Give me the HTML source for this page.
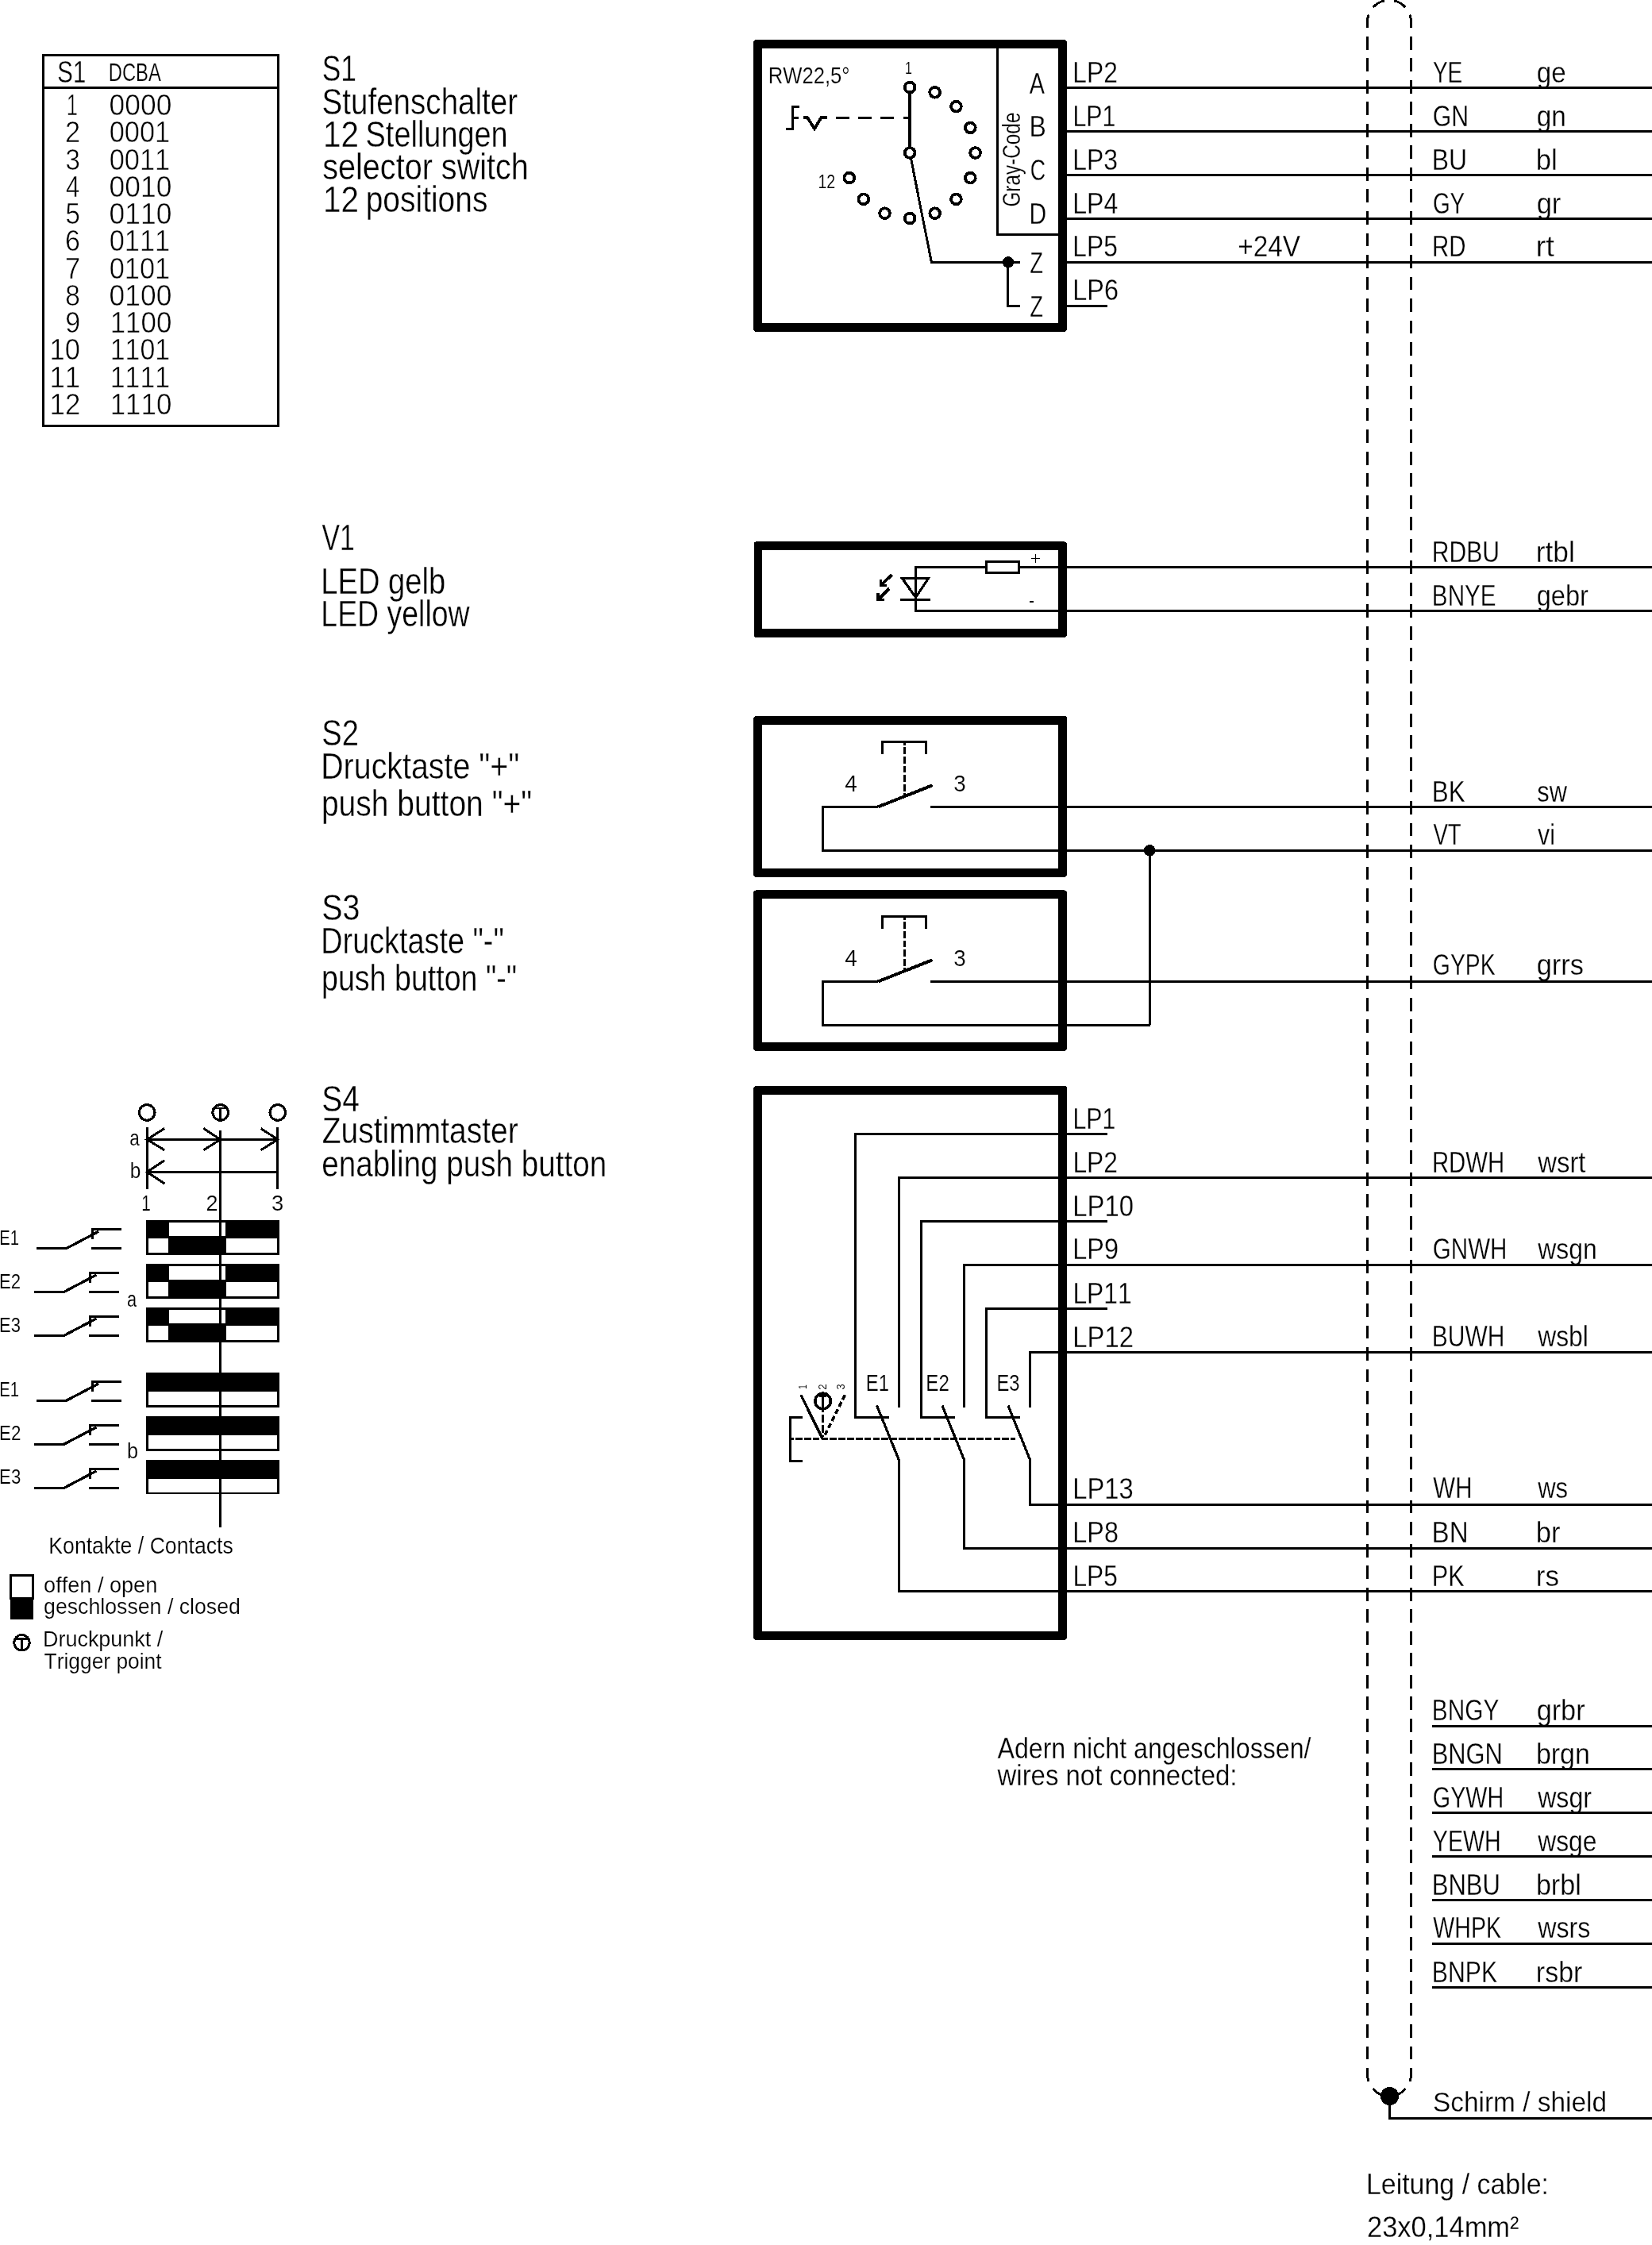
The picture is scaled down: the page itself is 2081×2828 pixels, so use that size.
<!DOCTYPE html>
<html><head><meta charset="utf-8"><style>
html,body{margin:0;padding:0;background:#fff;}
svg{display:block;filter:grayscale(1);}
text{font-family:"Liberation Sans",sans-serif;fill:#000;stroke:#fff;font-kerning:none;}
</style></head><body>
<svg width="2081" height="2828" viewBox="0 0 2081 2828">
<g fill="none" stroke="#000" stroke-linecap="butt" stroke-linejoin="miter" shape-rendering="crispEdges">
<g class="t"><text transform="translate(72.37 104.00) scale(0.7612 1)" font-size="38.52" stroke-width="0.29">S1</text>
<text transform="translate(136.75 102.00) scale(0.7794 1)" font-size="30.52" stroke-width="0.21">DCBA</text>
<text transform="translate(83.84 145.20) scale(0.6812 1)" font-size="37.79" stroke-width="0.55">1</text>
<text transform="translate(137.62 145.20) scale(0.9369 1)" font-size="37.79" stroke-width="0.55">0000</text>
<text transform="translate(82.07 179.45) scale(0.9119 1)" font-size="37.79" stroke-width="0.55">2</text>
<text transform="translate(137.66 179.45) scale(0.9102 1)" font-size="37.79" stroke-width="0.55">0001</text>
<text transform="translate(82.54 213.70) scale(0.8762 1)" font-size="37.79" stroke-width="0.55">3</text>
<text transform="translate(137.66 213.70) scale(0.9102 1)" font-size="37.79" stroke-width="0.55">0011</text>
<text transform="translate(83.08 247.95) scale(0.8244 1)" font-size="37.79" stroke-width="0.55">4</text>
<text transform="translate(137.62 247.95) scale(0.9369 1)" font-size="37.79" stroke-width="0.55">0010</text>
<text transform="translate(82.47 282.20) scale(0.8762 1)" font-size="37.79" stroke-width="0.55">5</text>
<text transform="translate(137.62 282.20) scale(0.9369 1)" font-size="37.79" stroke-width="0.55">0110</text>
<text transform="translate(82.07 316.45) scale(0.9003 1)" font-size="37.79" stroke-width="0.55">6</text>
<text transform="translate(137.66 316.45) scale(0.9102 1)" font-size="37.79" stroke-width="0.55">0111</text>
<text transform="translate(82.03 350.70) scale(0.9139 1)" font-size="37.79" stroke-width="0.55">7</text>
<text transform="translate(137.66 350.70) scale(0.9102 1)" font-size="37.79" stroke-width="0.55">0101</text>
<text transform="translate(82.35 384.95) scale(0.8853 1)" font-size="37.79" stroke-width="0.55">8</text>
<text transform="translate(137.62 384.95) scale(0.9369 1)" font-size="37.79" stroke-width="0.55">0100</text>
<text transform="translate(82.21 419.20) scale(0.8994 1)" font-size="37.79" stroke-width="0.55">9</text>
<text transform="translate(138.64 419.20) scale(0.9245 1)" font-size="37.79" stroke-width="0.55">1100</text>
<text transform="translate(62.58 453.45) scale(0.9103 1)" font-size="37.79" stroke-width="0.55">10</text>
<text transform="translate(138.72 453.45) scale(0.8973 1)" font-size="37.79" stroke-width="0.55">1101</text>
<text transform="translate(62.55 487.70) scale(0.9193 1)" font-size="37.79" stroke-width="0.55">11</text>
<text transform="translate(138.72 487.70) scale(0.8973 1)" font-size="37.79" stroke-width="0.55">1111</text>
<text transform="translate(62.55 521.95) scale(0.9207 1)" font-size="37.79" stroke-width="0.55">12</text>
<text transform="translate(138.64 521.95) scale(0.9245 1)" font-size="37.79" stroke-width="0.55">1110</text>
<text transform="translate(405.70 101.80) scale(0.7719 1)" font-size="45.79" stroke-width="0.36">S1</text>
<text transform="translate(405.55 143.60) scale(0.8425 1)" font-size="45.79" stroke-width="0.36">Stufenschalter</text>
<text transform="translate(406.92 184.80) scale(0.8840 1)" font-size="45.79" stroke-width="0.36">12</text>
<text transform="translate(460.58 184.80) scale(0.8281 1)" font-size="45.79" stroke-width="0.36">Stellungen</text>
<text transform="translate(406.20 225.70) scale(0.8649 1)" font-size="45.79" stroke-width="0.36">selector switch</text>
<text transform="translate(406.92 266.50) scale(0.8840 1)" font-size="45.79" stroke-width="0.36">12</text>
<text transform="translate(460.69 266.50) scale(0.8507 1)" font-size="45.79" stroke-width="0.36">positions</text>
<text transform="translate(405.55 693.10) scale(0.7374 1)" font-size="45.79" stroke-width="0.36">V1</text>
<text transform="translate(404.27 748.10) scale(0.8326 1)" font-size="45.79" stroke-width="0.36">LED gelb</text>
<text transform="translate(404.33 788.70) scale(0.8178 1)" font-size="45.79" stroke-width="0.36">LED yellow</text>
<text transform="translate(405.27 939.30) scale(0.8330 1)" font-size="45.79" stroke-width="0.36">S2</text>
<text transform="translate(404.17 980.50) scale(0.8604 1)" font-size="45.79" stroke-width="0.36">Drucktaste &quot;+&quot;</text>
<text transform="translate(404.89 1028.20) scale(0.8522 1)" font-size="45.79" stroke-width="0.36">push button &quot;+&quot;</text>
<text transform="translate(405.21 1158.60) scale(0.8611 1)" font-size="45.79" stroke-width="0.36">S3</text>
<text transform="translate(404.30 1200.50) scale(0.8257 1)" font-size="45.79" stroke-width="0.36">Drucktaste &quot;-&quot;</text>
<text transform="translate(404.98 1248.20) scale(0.8214 1)" font-size="45.79" stroke-width="0.36">push button &quot;-&quot;</text>
<text transform="translate(405.23 1399.80) scale(0.8501 1)" font-size="45.79" stroke-width="0.36">S4</text>
<text transform="translate(405.76 1440.20) scale(0.8520 1)" font-size="45.79" stroke-width="0.36">Zustimmtaster</text>
<text transform="translate(405.36 1482.10) scale(0.8441 1)" font-size="45.79" stroke-width="0.36">enabling push button</text>
<text transform="translate(967.70 104.70) scale(0.8519 1)" font-size="30.09" stroke-width="0.20">RW22,5°</text>
<text transform="translate(1285.00 260.62) rotate(-90) scale(0.7979 1)" font-size="30.52" stroke-width="0.21">Gray-Code</text>
<text transform="translate(1296.84 117.80) scale(0.7681 1)" font-size="37.50" stroke-width="0.28">A</text>
<text transform="translate(1296.38 172.40) scale(0.8518 1)" font-size="37.50" stroke-width="0.28">B</text>
<text transform="translate(1297.64 227.00) scale(0.7158 1)" font-size="37.50" stroke-width="0.28">C</text>
<text transform="translate(1296.53 281.60) scale(0.8014 1)" font-size="37.50" stroke-width="0.28">D</text>
<text transform="translate(1297.13 343.80) scale(0.7301 1)" font-size="37.50" stroke-width="0.28">Z</text>
<text transform="translate(1297.13 398.80) scale(0.7301 1)" font-size="37.50" stroke-width="0.28">Z</text>
<text transform="translate(1139.98 92.60) scale(0.7196 1)" font-size="22.24" stroke-width="0.12">1</text>
<text transform="translate(1030.40 236.90) scale(0.8462 1)" font-size="23.26" stroke-width="0.13">12</text>
<text transform="translate(1351.30 103.90) scale(0.8468 1)" font-size="37.50" stroke-width="0.28">LP2</text>
<text transform="translate(1351.41 158.70) scale(0.8105 1)" font-size="37.50" stroke-width="0.28">LP1</text>
<text transform="translate(1351.28 213.80) scale(0.8516 1)" font-size="37.50" stroke-width="0.28">LP3</text>
<text transform="translate(1351.26 268.90) scale(0.8569 1)" font-size="37.50" stroke-width="0.28">LP4</text>
<text transform="translate(1351.29 322.90) scale(0.8474 1)" font-size="37.50" stroke-width="0.28">LP5</text>
<text transform="translate(1351.24 378.10) scale(0.8645 1)" font-size="37.50" stroke-width="0.28">LP6</text>
<text transform="translate(1559.27 322.80) scale(0.8820 1)" font-size="37.79" stroke-width="0.28">+24V</text>
<text transform="translate(1804.88 104.00) scale(0.7481 1)" font-size="37.50" stroke-width="0.28">YE</text>
<text transform="translate(1935.71 104.00) scale(0.8838 1)" font-size="37.50" stroke-width="0.28">ge</text>
<text transform="translate(1804.78 159.00) scale(0.8050 1)" font-size="37.50" stroke-width="0.28">GN</text>
<text transform="translate(1935.70 159.00) scale(0.8885 1)" font-size="37.50" stroke-width="0.28">gn</text>
<text transform="translate(1803.69 213.80) scale(0.8499 1)" font-size="37.50" stroke-width="0.28">BU</text>
<text transform="translate(1934.87 213.80) scale(0.9233 1)" font-size="37.50" stroke-width="0.28">bl</text>
<text transform="translate(1804.90 269.10) scale(0.7441 1)" font-size="37.50" stroke-width="0.28">GY</text>
<text transform="translate(1935.65 269.10) scale(0.9214 1)" font-size="37.50" stroke-width="0.28">gr</text>
<text transform="translate(1803.88 323.30) scale(0.7851 1)" font-size="37.50" stroke-width="0.28">RD</text>
<text transform="translate(1934.55 323.30) scale(1.0227 1)" font-size="37.50" stroke-width="0.28">rt</text>
<text transform="translate(1803.83 708.10) scale(0.8017 1)" font-size="37.50" stroke-width="0.28">RDBU</text>
<text transform="translate(1934.76 708.10) scale(0.9406 1)" font-size="37.50" stroke-width="0.28">rtbl</text>
<text transform="translate(1803.87 762.80) scale(0.7903 1)" font-size="37.50" stroke-width="0.28">BNYE</text>
<text transform="translate(1935.73 762.80) scale(0.8674 1)" font-size="37.50" stroke-width="0.28">gebr</text>
<text transform="translate(1803.73 1010.40) scale(0.8361 1)" font-size="37.50" stroke-width="0.28">BK</text>
<text transform="translate(1936.24 1010.40) scale(0.8222 1)" font-size="37.50" stroke-width="0.28">sw</text>
<text transform="translate(1805.38 1064.30) scale(0.7357 1)" font-size="37.50" stroke-width="0.28">VT</text>
<text transform="translate(1937.00 1064.30) scale(0.8106 1)" font-size="37.50" stroke-width="0.28">vi</text>
<text transform="translate(1804.87 1227.80) scale(0.7556 1)" font-size="37.50" stroke-width="0.28">GYPK</text>
<text transform="translate(1935.65 1227.80) scale(0.9180 1)" font-size="37.50" stroke-width="0.28">grrs</text>
<text transform="translate(1803.89 1477.00) scale(0.7837 1)" font-size="37.50" stroke-width="0.28">RDWH</text>
<text transform="translate(1937.15 1477.00) scale(0.8786 1)" font-size="37.50" stroke-width="0.28">wsrt</text>
<text transform="translate(1804.81 1586.00) scale(0.7883 1)" font-size="37.50" stroke-width="0.28">GNWH</text>
<text transform="translate(1937.15 1586.00) scale(0.8525 1)" font-size="37.50" stroke-width="0.28">wsgn</text>
<text transform="translate(1803.84 1695.90) scale(0.7986 1)" font-size="37.50" stroke-width="0.28">BUWH</text>
<text transform="translate(1937.15 1695.90) scale(0.8503 1)" font-size="37.50" stroke-width="0.28">wsbl</text>
<text transform="translate(1805.37 1887.10) scale(0.7848 1)" font-size="37.50" stroke-width="0.28">WH</text>
<text transform="translate(1937.15 1887.10) scale(0.8286 1)" font-size="37.50" stroke-width="0.28">ws</text>
<text transform="translate(1803.58 1942.70) scale(0.8834 1)" font-size="37.50" stroke-width="0.28">BN</text>
<text transform="translate(1934.87 1942.70) scale(0.9207 1)" font-size="37.50" stroke-width="0.28">br</text>
<text transform="translate(1803.79 1998.30) scale(0.8167 1)" font-size="37.50" stroke-width="0.28">PK</text>
<text transform="translate(1934.77 1998.30) scale(0.9345 1)" font-size="37.50" stroke-width="0.28">rs</text>
<text transform="translate(1803.86 2166.80) scale(0.7941 1)" font-size="37.50" stroke-width="0.28">BNGY</text>
<text transform="translate(1935.66 2166.80) scale(0.9133 1)" font-size="37.50" stroke-width="0.28">grbr</text>
<text transform="translate(1803.77 2222.00) scale(0.8228 1)" font-size="37.50" stroke-width="0.28">BNGN</text>
<text transform="translate(1934.91 2222.00) scale(0.9059 1)" font-size="37.50" stroke-width="0.28">brgn</text>
<text transform="translate(1804.85 2276.80) scale(0.7662 1)" font-size="37.50" stroke-width="0.28">GYWH</text>
<text transform="translate(1937.15 2276.80) scale(0.8574 1)" font-size="37.50" stroke-width="0.28">wsgr</text>
<text transform="translate(1804.87 2332.00) scale(0.7641 1)" font-size="37.50" stroke-width="0.28">YEWH</text>
<text transform="translate(1937.15 2332.00) scale(0.8495 1)" font-size="37.50" stroke-width="0.28">wsge</text>
<text transform="translate(1803.75 2386.60) scale(0.8277 1)" font-size="37.50" stroke-width="0.28">BNBU</text>
<text transform="translate(1934.90 2386.60) scale(0.9096 1)" font-size="37.50" stroke-width="0.28">brbl</text>
<text transform="translate(1805.37 2441.40) scale(0.7613 1)" font-size="37.50" stroke-width="0.28">WHPK</text>
<text transform="translate(1937.15 2441.40) scale(0.8592 1)" font-size="37.50" stroke-width="0.28">wsrs</text>
<text transform="translate(1803.82 2496.60) scale(0.8051 1)" font-size="37.50" stroke-width="0.28">BNPK</text>
<text transform="translate(1934.84 2496.60) scale(0.9078 1)" font-size="37.50" stroke-width="0.28">rsbr</text>
<text transform="translate(1064.26 996.80) scale(0.9300 1)" font-size="30.09" stroke-width="0.20">4</text>
<text transform="translate(1201.14 996.90) scale(0.9253 1)" font-size="30.09" stroke-width="0.20">3</text>
<text transform="translate(1064.26 1216.80) scale(0.9300 1)" font-size="30.09" stroke-width="0.20">4</text>
<text transform="translate(1201.14 1216.90) scale(0.9253 1)" font-size="30.09" stroke-width="0.20">3</text>
<text transform="translate(1351.51 1421.60) scale(0.8088 1)" font-size="37.50" stroke-width="0.28">LP1</text>
<text transform="translate(1351.40 1476.60) scale(0.8468 1)" font-size="37.50" stroke-width="0.28">LP2</text>
<text transform="translate(1351.31 1531.50) scale(0.8755 1)" font-size="37.50" stroke-width="0.28">LP10</text>
<text transform="translate(1351.34 1586.40) scale(0.8647 1)" font-size="37.50" stroke-width="0.28">LP9</text>
<text transform="translate(1351.39 1641.50) scale(0.8491 1)" font-size="37.50" stroke-width="0.28">LP11</text>
<text transform="translate(1351.31 1696.50) scale(0.8751 1)" font-size="37.50" stroke-width="0.28">LP12</text>
<text transform="translate(1351.40 1997.90) scale(0.8458 1)" font-size="37.50" stroke-width="0.28">LP5</text>
<text transform="translate(1351.35 1943.40) scale(0.8626 1)" font-size="37.50" stroke-width="0.28">LP8</text>
<text transform="translate(1351.32 1888.30) scale(0.8726 1)" font-size="37.50" stroke-width="0.28">LP13</text>
<text transform="translate(1090.84 1752.30) scale(0.8220 1)" font-size="29.07" stroke-width="0.19">E1</text>
<text transform="translate(1166.32 1752.30) scale(0.8294 1)" font-size="29.07" stroke-width="0.19">E2</text>
<text transform="translate(1255.45 1752.30) scale(0.8183 1)" font-size="29.07" stroke-width="0.19">E3</text>
<text transform="translate(1016.20 1749.86) rotate(-90) scale(0.6662 1)" font-size="14.97" stroke-width="0.05">1</text>
<text transform="translate(1041.00 1750.67) rotate(-90) scale(0.8944 1)" font-size="14.97" stroke-width="0.05">2</text>
<text transform="translate(1064.00 1750.49) rotate(-90) scale(0.8594 1)" font-size="14.97" stroke-width="0.05">3</text>
<text transform="translate(1804.98 2659.80) scale(0.9381 1)" font-size="35.61" stroke-width="0.26">Schirm / shield</text>
<text transform="translate(1720.92 2764.00) scale(0.9339 1)" font-size="36.34" stroke-width="0.26">Leitung / cable:</text>
<text transform="translate(1721.97 2817.80) scale(0.9492 1)" font-size="36.34" stroke-width="0.26">23x0,14mm²</text>
<text transform="translate(1256.44 2214.60) scale(0.8921 1)" font-size="36.05" stroke-width="0.26">Adern nicht angeschlossen/</text>
<text transform="translate(1256.55 2249.20) scale(0.9136 1)" font-size="36.05" stroke-width="0.26">wires not connected:</text>
<text transform="translate(163.24 1443.20) scale(0.7967 1)" font-size="28.34" stroke-width="0.18">a</text>
<text transform="translate(163.72 1484.20) scale(0.8630 1)" font-size="28.34" stroke-width="0.18">b</text>
<text transform="translate(178.21 1525.00) scale(0.7365 1)" font-size="28.34" stroke-width="0.18">1</text>
<text transform="translate(259.54 1525.00) scale(0.9526 1)" font-size="28.34" stroke-width="0.18">2</text>
<text transform="translate(342.06 1525.00) scale(0.9674 1)" font-size="28.34" stroke-width="0.18">3</text>
<text transform="translate(-0.77 1568.10) scale(0.7683 1)" font-size="26.45" stroke-width="0.16">E1</text>
<text transform="translate(-0.92 1623.20) scale(0.8386 1)" font-size="26.45" stroke-width="0.16">E2</text>
<text transform="translate(-0.91 1678.20) scale(0.8338 1)" font-size="26.45" stroke-width="0.16">E3</text>
<text transform="translate(-0.77 1759.40) scale(0.7683 1)" font-size="26.45" stroke-width="0.16">E1</text>
<text transform="translate(-0.93 1814.30) scale(0.8456 1)" font-size="26.45" stroke-width="0.16">E2</text>
<text transform="translate(-0.92 1869.20) scale(0.8407 1)" font-size="26.45" stroke-width="0.16">E3</text>
<text transform="translate(160.07 1645.80) scale(0.7693 1)" font-size="28.34" stroke-width="0.18">a</text>
<text transform="translate(160.07 1837.40) scale(0.8944 1)" font-size="28.34" stroke-width="0.18">b</text>
<text transform="translate(61.31 1957.20) scale(0.9259 1)" font-size="28.78" stroke-width="0.19">Kontakte / Contacts</text>
<text transform="translate(55.06 2006.20) scale(0.9823 1)" font-size="27.62" stroke-width="0.18">offen / open</text>
<text transform="translate(55.08 2032.90) scale(0.9667 1)" font-size="27.62" stroke-width="0.18">geschlossen / closed</text>
<text transform="translate(53.99 2074.00) scale(0.9761 1)" font-size="27.62" stroke-width="0.18">Druckpunkt /</text>
<text transform="translate(55.61 2102.10) scale(0.9545 1)" font-size="27.62" stroke-width="0.18">Trigger point</text></g>
<path d="M54.40 69.60 H350.60 V536.20 H54.40 Z" stroke-width="2.80" />
<path d="M54.40 110.60 L350.60 110.60" stroke-width="3.00" />
<path d="M952.70 50.10 H1340.50 A3.50 3.50 0 0 1 1344.00 53.60 V414.40 A3.50 3.50 0 0 1 1340.50 417.90 H952.70 A3.50 3.50 0 0 1 949.20 414.40 V53.60 A3.50 3.50 0 0 1 952.70 50.10 Z M960.00 60.90 H1333.20 V407.10 H960.00 Z" fill="#000" fill-rule="evenodd" stroke="none"/>
<path d="M1256.5 60 V295.3 H1333" stroke-width="3.00" />
<circle cx="1146.10" cy="110.00" r="6.40" stroke-width="3.80"/>
<circle cx="1177.67" cy="116.28" r="6.40" stroke-width="3.80"/>
<circle cx="1204.44" cy="134.16" r="6.40" stroke-width="3.80"/>
<circle cx="1222.32" cy="160.93" r="6.40" stroke-width="3.80"/>
<circle cx="1228.60" cy="192.50" r="6.40" stroke-width="3.80"/>
<circle cx="1222.32" cy="224.07" r="6.40" stroke-width="3.80"/>
<circle cx="1204.44" cy="250.84" r="6.40" stroke-width="3.80"/>
<circle cx="1177.67" cy="268.72" r="6.40" stroke-width="3.80"/>
<circle cx="1146.10" cy="275.00" r="6.40" stroke-width="3.80"/>
<circle cx="1114.53" cy="268.72" r="6.40" stroke-width="3.80"/>
<circle cx="1087.76" cy="250.84" r="6.40" stroke-width="3.80"/>
<circle cx="1069.88" cy="224.07" r="6.40" stroke-width="3.80"/>
<circle cx="1146.10" cy="192.50" r="6.40" stroke-width="3.80"/>
<path d="M1146.10 116.50 L1146.10 186.30" stroke-width="3.50" />
<path d="M1147.3 198.6 L1173.4 330.4 H1285" stroke-width="3.00" />
<circle cx="1270.00" cy="330.30" r="7.10" fill="#000" stroke="none"/>
<path d="M1269.6 330 V385.5 H1285" stroke-width="3.00" />
<path d="M990 162.5 H998.6 V134.5 H1007" stroke-width="3.00" />
<path d="M998.60 148.30 L1005.50 148.30" stroke-width="3.00" />
<path d="M1012.2 148 H1017 L1026 162 L1034.6 148 H1041.9" stroke-width="3.80" stroke-linejoin="miter"/>
<path d="M1053 148.3 H1146" stroke-width="3.50" stroke-dasharray="17 11.2"/>
<path d="M1343.00 110.50 L2081.00 110.50" stroke-width="3.00" />
<path d="M1343.00 165.50 L2081.00 165.50" stroke-width="3.00" />
<path d="M1343.00 220.50 L2081.00 220.50" stroke-width="3.00" />
<path d="M1343.00 275.50 L2081.00 275.50" stroke-width="3.00" />
<path d="M1343.00 330.40 L2081.00 330.40" stroke-width="3.00" />
<path d="M1343.00 385.50 L1395.00 385.50" stroke-width="3.00" />
<path d="M953.00 682.40 H1340.50 A3.50 3.50 0 0 1 1344.00 685.90 V799.30 A3.50 3.50 0 0 1 1340.50 802.80 H953.00 A3.50 3.50 0 0 1 949.50 799.30 V685.90 A3.50 3.50 0 0 1 953.00 682.40 Z M960.30 693.20 H1333.20 V792.00 H960.30 Z" fill="#000" fill-rule="evenodd" stroke="none"/>
<path d="M2081 714.5 H1153.5 V769.5 H2081" stroke-width="3.00" />
<rect x="1242.3" y="707.2" width="41.3" height="14.4" fill="#fff" stroke-width="2.6"/>
<path d="M1136.4 728.4 H1169.6 L1153.5 752.5 Z" stroke-width="3.20" stroke-linejoin="miter"/>
<path d="M1134.00 755.60 L1171.80 755.60" stroke-width="3.20" />
<path d="M1123.50 723.80 L1109.80 737.20" stroke-width="4.00" />
<path d="M1109.2 730 V737.8 H1116.8" stroke-width="3.30" />
<path d="M1120.40 741.40 L1106.60 754.90" stroke-width="4.00" />
<path d="M1105.9 747.4 V755.4 H1113.9" stroke-width="3.30" />
<path d="M1299.00 703.60 L1310.00 703.60" stroke-width="1.50" />
<path d="M1304.50 698.10 L1304.50 709.10" stroke-width="1.50" />
<path d="M1297.00 758.20 L1302.00 758.20" stroke-width="1.50" />
<path d="M952.50 902.00 H1340.50 A3.50 3.50 0 0 1 1344.00 905.50 V1101.40 A3.50 3.50 0 0 1 1340.50 1104.90 H952.50 A3.50 3.50 0 0 1 949.00 1101.40 V905.50 A3.50 3.50 0 0 1 952.50 902.00 Z M959.80 912.80 H1333.20 V1094.10 H959.80 Z" fill="#000" fill-rule="evenodd" stroke="none"/>
<path d="M1106.1 1016.30 H1036.5 V1071.40 H1449" stroke-width="3.00" />
<path d="M1106.10 1016.40 L1174.70 989.20" stroke-width="4.00" />
<path d="M1172.20 1016.40 L2081.00 1016.40" stroke-width="3.00" />
<path d="M1111.5 949.60 V934.70 H1166.5 V949.60" stroke-width="3.00" />
<path d="M1139.5 936.00 V1003.00" stroke-width="3.00" stroke-dasharray="8.9 2.65" stroke-dashoffset="6.1"/>
<path d="M952.50 1121.49 H1340.50 A3.50 3.50 0 0 1 1344.00 1124.99 V1320.40 A3.50 3.50 0 0 1 1340.50 1323.90 H952.50 A3.50 3.50 0 0 1 949.00 1320.40 V1124.99 A3.50 3.50 0 0 1 952.50 1121.49 Z M959.80 1132.29 H1333.20 V1313.10 H959.80 Z" fill="#000" fill-rule="evenodd" stroke="none"/>
<path d="M1106.1 1236.30 H1036.5 V1291.40 H1449" stroke-width="3.00" />
<path d="M1106.10 1236.40 L1174.70 1209.20" stroke-width="4.00" />
<path d="M1172.20 1236.40 L2081.00 1236.40" stroke-width="3.00" />
<path d="M1111.5 1169.60 V1154.70 H1166.5 V1169.60" stroke-width="3.00" />
<path d="M1139.5 1156.00 V1223.00" stroke-width="3.00" stroke-dasharray="8.9 2.65" stroke-dashoffset="6.1"/>
<path d="M1449.00 1071.30 L2081.00 1071.30" stroke-width="3.00" />
<path d="M1448.50 1071.30 L1448.50 1291.30" stroke-width="3.00" />
<circle cx="1448.20" cy="1071.30" r="7.30" fill="#000" stroke="none"/>
<path d="M952.70 1367.90 H1340.50 A3.50 3.50 0 0 1 1344.00 1371.40 V2062.40 A3.50 3.50 0 0 1 1340.50 2065.90 H952.70 A3.50 3.50 0 0 1 949.20 2062.40 V1371.40 A3.50 3.50 0 0 1 952.70 1367.90 Z M960.00 1378.70 H1333.20 V2055.10 H960.00 Z" fill="#000" fill-rule="evenodd" stroke="none"/>
<path d="M1120.10 1785.4 H1077.80 V1428.60 H1395.00" stroke-width="3.00" />
<path d="M1132.30 1772.5 V1483.60 H2081.00" stroke-width="3.00" />
<path d="M1203.00 1785.4 H1160.70 V1538.50 H1395.00" stroke-width="3.00" />
<path d="M1214.60 1772.5 V1593.40 H2081.00" stroke-width="3.00" />
<path d="M1284.70 1785.4 H1242.40 V1648.50 H1395.00" stroke-width="3.00" />
<path d="M1297.60 1772.5 V1703.50 H2081.00" stroke-width="3.00" />
<path d="M1104.50 1770.40 L1132.30 1839.00" stroke-width="3.20" />
<path d="M1132.30 1839 V2004.90 H2081" stroke-width="3.00" />
<path d="M1186.80 1770.40 L1214.60 1839.00" stroke-width="3.20" />
<path d="M1214.60 1839 V1950.40 H2081" stroke-width="3.00" />
<path d="M1269.80 1770.40 L1297.60 1839.00" stroke-width="3.20" />
<path d="M1297.60 1839 V1895.30 H2081" stroke-width="3.00" />
<path d="M1010.9 1785.4 H995.4 V1840.4 H1010.9" stroke-width="3.00" />
<path d="M997.00 1812.40 L1279.00 1812.40" stroke-width="2.80" stroke-dasharray="8.7 2.15" stroke-dashoffset="5.9"/>
<circle cx="1036.60" cy="1765.00" r="9.80" stroke-width="3.60"/>
<path d="M1031.90 1758.60 L1041.20 1758.60" stroke-width="2.50" />
<path d="M1036.50 1758.60 L1036.50 1778.70" stroke-width="2.70" />
<path d="M1036.50 1782.00 L1036.50 1810.00" stroke-width="2.70" stroke-dasharray="9.7 3.3"/>
<path d="M1008.90 1757.20 L1036.50 1812.90" stroke-width="3.50" />
<path d="M1064.30 1757.20 L1037.50 1811.00" stroke-width="3.50" stroke-dasharray="6.5 3.5"/>
<path d="M1750 0.2 A27.5 27.5 0 0 0 1722.5 27.7 L1722.5 2613 A27.5 27.5 0 0 0 1750 2640.5" stroke-width="3.00" stroke-dasharray="16.8 10.72" stroke-dashoffset="21.3"/>
<path d="M1750 0.2 A27.5 27.5 0 0 1 1777.5 27.7 L1777.5 2613 A27.5 27.5 0 0 1 1750 2640.5" stroke-width="3.00" stroke-dasharray="16.8 10.72" stroke-dashoffset="21.3"/>
<circle cx="1750.50" cy="2640.50" r="11.50" fill="#000" stroke="none"/>
<path d="M1750.5 2645 V2668.2 H2081" stroke-width="3.00" />
<path d="M1803.90 2174.30 L2081.00 2174.30" stroke-width="3.00" />
<path d="M1803.90 2228.40 L2081.00 2228.40" stroke-width="3.00" />
<path d="M1803.90 2283.40 L2081.00 2283.40" stroke-width="3.00" />
<path d="M1803.90 2338.40 L2081.00 2338.40" stroke-width="3.00" />
<path d="M1803.90 2393.60 L2081.00 2393.60" stroke-width="3.00" />
<path d="M1803.90 2448.40 L2081.00 2448.40" stroke-width="3.00" />
<path d="M1803.90 2503.60 L2081.00 2503.60" stroke-width="3.00" />
<circle cx="185.20" cy="1401.40" r="9.80" stroke-width="3.10"/>
<circle cx="349.80" cy="1401.40" r="9.80" stroke-width="3.10"/>
<circle cx="277.70" cy="1401.40" r="9.80" stroke-width="3.10"/>
<path d="M270.50 1396.00 L285.00 1396.00" stroke-width="2.50" />
<path d="M277.70 1396.00 L277.70 1411.00" stroke-width="2.50" />
<path d="M185.20 1420.40 L185.20 1498.30" stroke-width="3.00" />
<path d="M349.80 1420.40 L349.80 1498.30" stroke-width="3.00" />
<path d="M277.70 1423.80 L277.70 1924.00" stroke-width="3.00" />
<path d="M185.20 1435.40 L349.80 1435.40" stroke-width="3.00" />
<path d="M185.20 1476.40 L349.80 1476.40" stroke-width="3.00" />
<path d="M207.2 1421.5 L185.2 1435.4 L207.2 1448.8" stroke-width="3.00" stroke-linejoin="miter"/>
<path d="M207.2 1461.8 L185.2 1476.4 L207.2 1491" stroke-width="3.00" stroke-linejoin="miter"/>
<path d="M256.4 1421.5 L277.7 1435.4 L256.4 1448.8" stroke-width="3.00" stroke-linejoin="miter"/>
<path d="M328.6 1421.5 L349.8 1435.4 L328.6 1448.8" stroke-width="3.00" stroke-linejoin="miter"/>
<rect x="184.20" y="1537.10" width="167.80" height="43.80" fill="#000" stroke="none"/>
<rect x="213.00" y="1540.10" width="70.80" height="17.00" fill="#fff" stroke="none"/>
<rect x="187.00" y="1560.10" width="25.00" height="17.80" fill="#fff" stroke="none"/>
<rect x="285.00" y="1560.10" width="63.90" height="17.80" fill="#fff" stroke="none"/>
<rect x="184.20" y="1592.00" width="167.80" height="43.80" fill="#000" stroke="none"/>
<rect x="213.00" y="1595.00" width="70.80" height="17.00" fill="#fff" stroke="none"/>
<rect x="187.00" y="1615.00" width="25.00" height="17.80" fill="#fff" stroke="none"/>
<rect x="285.00" y="1615.00" width="63.90" height="17.80" fill="#fff" stroke="none"/>
<rect x="184.20" y="1647.00" width="167.80" height="43.80" fill="#000" stroke="none"/>
<rect x="213.00" y="1650.00" width="70.80" height="17.00" fill="#fff" stroke="none"/>
<rect x="187.00" y="1670.00" width="25.00" height="17.80" fill="#fff" stroke="none"/>
<rect x="285.00" y="1670.00" width="63.90" height="17.80" fill="#fff" stroke="none"/>
<rect x="184.10" y="1729.20" width="168.00" height="43.40" fill="#000" stroke="none"/>
<rect x="187.00" y="1753.20" width="162.00" height="16.80" fill="#fff" stroke="none"/>
<rect x="184.10" y="1784.10" width="168.00" height="43.40" fill="#000" stroke="none"/>
<rect x="187.00" y="1808.10" width="162.00" height="16.80" fill="#fff" stroke="none"/>
<rect x="184.10" y="1838.90" width="168.00" height="43.40" fill="#000" stroke="none"/>
<rect x="187.00" y="1862.90" width="162.00" height="16.80" fill="#fff" stroke="none"/>
<path d="M277.70 1537.00 L277.70 1924.00" stroke-width="3.00" />
<path d="M46.30 1572.50 H83.80 L124.30 1551.20" stroke-width="3.30" stroke-linejoin="miter"/>
<path d="M115.30 1572.50 L152.90 1572.50" stroke-width="3.00" />
<path d="M116.60 1560.80 V1548.50 H152.90" stroke-width="3.00" stroke-linejoin="miter"/>
<path d="M43.30 1627.30 H80.80 L121.30 1606.00" stroke-width="3.30" stroke-linejoin="miter"/>
<path d="M112.30 1627.30 L149.90 1627.30" stroke-width="3.00" />
<path d="M113.60 1615.60 V1603.30 H149.90" stroke-width="3.00" stroke-linejoin="miter"/>
<path d="M43.30 1682.30 H80.80 L121.30 1661.00" stroke-width="3.30" stroke-linejoin="miter"/>
<path d="M112.30 1682.30 L149.90 1682.30" stroke-width="3.00" />
<path d="M113.60 1670.60 V1658.30 H149.90" stroke-width="3.00" stroke-linejoin="miter"/>
<path d="M45.90 1764.40 H83.40 L123.90 1743.10" stroke-width="3.30" stroke-linejoin="miter"/>
<path d="M114.90 1764.40 L152.50 1764.40" stroke-width="3.00" />
<path d="M116.20 1752.70 V1740.40 H152.50" stroke-width="3.00" stroke-linejoin="miter"/>
<path d="M43.30 1819.20 H80.80 L121.30 1797.90" stroke-width="3.30" stroke-linejoin="miter"/>
<path d="M112.30 1819.20 L149.90 1819.20" stroke-width="3.00" />
<path d="M113.60 1807.50 V1795.20 H149.90" stroke-width="3.00" stroke-linejoin="miter"/>
<path d="M43.30 1874.30 H80.80 L121.30 1853.00" stroke-width="3.30" stroke-linejoin="miter"/>
<path d="M112.30 1874.30 L149.90 1874.30" stroke-width="3.00" />
<path d="M113.60 1862.60 V1850.30 H149.90" stroke-width="3.00" stroke-linejoin="miter"/>
<path d="M13.40 1984.40 H41.60 V2013.40 H13.40 Z" stroke-width="2.70" />
<rect x="13.20" y="2013.40" width="28.80" height="26.30" fill="#000" stroke="none"/>
<circle cx="27.50" cy="2069.20" r="9.70" stroke-width="2.90"/>
<path d="M19.80 2064.30 L35.40 2064.30" stroke-width="2.70" />
<path d="M27.50 2064.30 L27.50 2078.50" stroke-width="2.70" />
</g>
</svg>
</body></html>
